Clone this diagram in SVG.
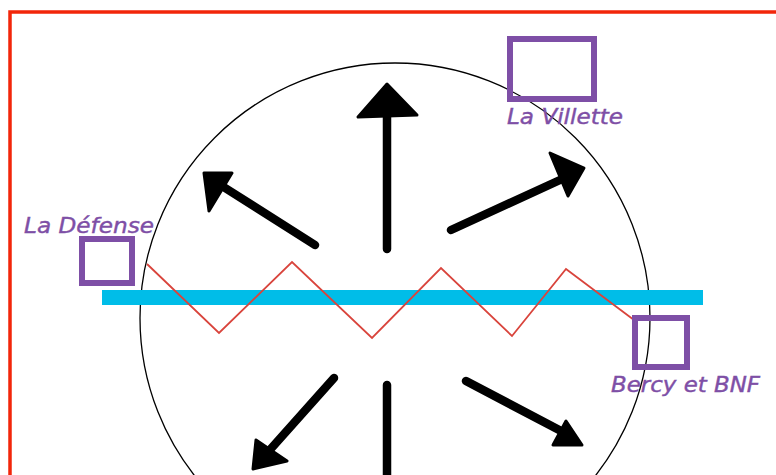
<svg xmlns="http://www.w3.org/2000/svg" width="776" height="475" viewBox="0 0 776 475">
<style>
.box{fill:none;stroke:#7E4FA6;stroke-width:6}
.lbl{fill:#7E4FA6;font-family:"DejaVu Sans",sans-serif;font-style:italic;font-size:20.5px;stroke:#7E4FA6;stroke-width:0.4}
.shaft{stroke:#000;stroke-width:8.5;stroke-linecap:round;fill:none}
.head{fill:#000;stroke:#000;stroke-width:3;stroke-linejoin:round}
</style>
<rect width="776" height="475" fill="#fff"/>
<rect x="10" y="12" width="800" height="500" fill="none" stroke="#F2260A" stroke-width="3.5"/>
<circle cx="395" cy="318" r="255" fill="none" stroke="#000" stroke-width="1.3"/>
<rect x="102" y="290" width="601" height="15" fill="#00BDE8"/>
<polyline points="147,264 219,333 292,262 372,338 441,268 512,336 566,269 634,320" fill="none" stroke="#D9443C" stroke-width="1.8"/>
<g id="connectors">
<line class="shaft" x1="387" y1="249" x2="387" y2="112"/>
<polygon class="head" points="387,84 358,117 417,115"/>
<line class="shaft" x1="315" y1="245" x2="222" y2="186"/>
<polygon class="head" points="204,173 232,173 209,211"/>
<line class="shaft" x1="451" y1="230" x2="560" y2="180"/>
<polygon class="head" points="584,168 550,153 568,196"/>
<line class="shaft" x1="334" y1="378" x2="268" y2="452"/>
<polygon class="head" points="253,469 256,440 287,461"/>
<line class="shaft" x1="387" y1="385" x2="387" y2="480"/>
<line class="shaft" x1="466" y1="381" x2="563" y2="432"/>
<polygon class="head" points="582,445 566,421 553,445"/>
</g>
<g id="la-defense">
<rect class="box" x="82" y="239" width="50" height="44"/>
<text class="lbl" x="24" y="233" textLength="130" lengthAdjust="spacingAndGlyphs">La Défense</text>
</g>
<g id="la-villette">
<rect class="box" x="510" y="39" width="84" height="60"/>
<text class="lbl" x="507" y="124" textLength="116" lengthAdjust="spacingAndGlyphs">La Villette</text>
</g>
<g id="bercy">
<rect class="box" x="635" y="318" width="52" height="49"/>
<text class="lbl" x="611" y="392" textLength="149" lengthAdjust="spacingAndGlyphs">Bercy et BNF</text>
</g>
</svg>
